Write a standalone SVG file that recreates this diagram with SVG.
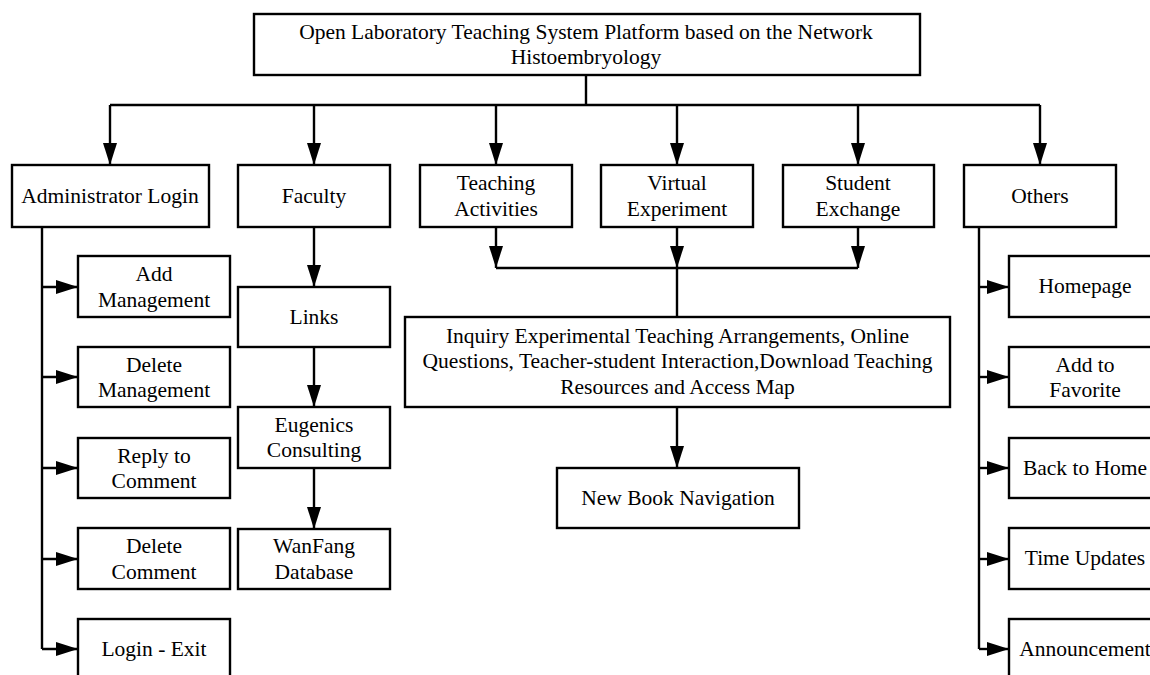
<svg xmlns="http://www.w3.org/2000/svg" width="1150" height="675" viewBox="0 0 1150 675">
<defs>
<marker id="ah" markerUnits="userSpaceOnUse" markerWidth="24" markerHeight="16" refX="22" refY="7" orient="auto">
<path d="M0,0 L22,7 L0,14 z" fill="#000"/>
</marker>
<style>
.box{fill:#fff;stroke:#000;stroke-width:2.4}
.t{font-family:"Liberation Serif","Times New Roman",serif;font-size:21.5px;fill:#000;text-anchor:middle}
.c{fill:none;stroke:#000;stroke-width:2.4}
.a{fill:none;stroke:#000;stroke-width:2.4;marker-end:url(#ah)}
</style>
</defs>
<rect width="1150" height="675" fill="#fff"/>
<g id="connectors">
<path class="c" d="M586,75 V105 M110,105 H1040"/>
<path class="a" d="M110,105 V165"/>
<path class="a" d="M314,105 V165"/>
<path class="a" d="M496,105 V165"/>
<path class="a" d="M677,105 V165"/>
<path class="a" d="M858,105 V165"/>
<path class="a" d="M1040,105 V165"/>
<path class="c" d="M42,227 V649"/>
<path class="a" d="M42,287 H78"/>
<path class="a" d="M42,377 H78"/>
<path class="a" d="M42,468 H78"/>
<path class="a" d="M42,559 H78"/>
<path class="a" d="M42,649 H78"/>
<path class="a" d="M314,227 V287"/>
<path class="a" d="M314,347 V407"/>
<path class="a" d="M314,468 V529"/>
<path class="a" d="M496,227 V268"/>
<path class="a" d="M677,227 V268"/>
<path class="a" d="M858,227 V268"/>
<path class="c" d="M496,268 H858 M677,268 V317"/>
<path class="a" d="M677,407 V468"/>
<path class="c" d="M979,227 V649"/>
<path class="a" d="M979,287 H1009"/>
<path class="a" d="M979,377 H1009"/>
<path class="a" d="M979,468 H1009"/>
<path class="a" d="M979,559 H1009"/>
<path class="a" d="M979,649 H1009"/>
</g>
<g id="root"><rect class="box" x="254" y="14" width="666" height="61"/><text class="t" x="586" y="38.5">Open Laboratory Teaching System Platform based on the Network</text><text class="t" x="586" y="64">Histoembryology</text></g>
<g id="admin"><rect class="box" x="12" y="165" width="197" height="62"/><text class="t" x="110" y="203">Administrator Login</text></g>
<g id="faculty"><rect class="box" x="238" y="165" width="152" height="62"/><text class="t" x="314" y="203">Faculty</text></g>
<g id="teaching"><rect class="box" x="420" y="165" width="152" height="62"/><text class="t" x="496" y="190">Teaching</text><text class="t" x="496" y="215.5">Activities</text></g>
<g id="virtual"><rect class="box" x="601" y="165" width="152" height="62"/><text class="t" x="677" y="190">Virtual</text><text class="t" x="677" y="215.5">Experiment</text></g>
<g id="student"><rect class="box" x="783" y="165" width="151" height="62"/><text class="t" x="858" y="190">Student</text><text class="t" x="858" y="215.5">Exchange</text></g>
<g id="others"><rect class="box" x="964" y="165" width="152" height="62"/><text class="t" x="1040" y="203">Others</text></g>
<g id="addmgmt"><rect class="box" x="78" y="256" width="152" height="61"/><text class="t" x="154" y="281">Add</text><text class="t" x="154" y="306.5">Management</text></g>
<g id="delmgmt"><rect class="box" x="78" y="347" width="152" height="60"/><text class="t" x="154" y="371.5">Delete</text><text class="t" x="154" y="397">Management</text></g>
<g id="reply"><rect class="box" x="78" y="438" width="152" height="60"/><text class="t" x="154" y="462.5">Reply to</text><text class="t" x="154" y="488">Comment</text></g>
<g id="delcomment"><rect class="box" x="78" y="528" width="152" height="61"/><text class="t" x="154" y="553">Delete</text><text class="t" x="154" y="578.5">Comment</text></g>
<g id="loginexit"><rect class="box" x="78" y="619" width="152" height="62"/><text class="t" x="154" y="656">Login - Exit</text></g>
<g id="links"><rect class="box" x="238" y="287" width="152" height="60"/><text class="t" x="314" y="324">Links</text></g>
<g id="eugenics"><rect class="box" x="238" y="407" width="152" height="61"/><text class="t" x="314" y="431.5">Eugenics</text><text class="t" x="314" y="457">Consulting</text></g>
<g id="wanfang"><rect class="box" x="238" y="529" width="152" height="60"/><text class="t" x="314" y="553">WanFang</text><text class="t" x="314" y="578.5">Database</text></g>
<g id="inquiry"><rect class="box" x="405" y="317" width="545" height="90"/><text class="t" x="677.5" y="342.5">Inquiry Experimental Teaching Arrangements, Online</text><text class="t" x="677.5" y="368">Questions, Teacher-student Interaction,Download Teaching</text><text class="t" x="677.5" y="393.5">Resources and Access Map</text></g>
<g id="newbook"><rect class="box" x="557" y="468" width="242" height="60"/><text class="t" x="678" y="505">New Book Navigation</text></g>
<g id="homepage"><rect class="box" x="1009" y="256" width="152" height="61"/><text class="t" x="1085" y="293">Homepage</text></g>
<g id="favorite"><rect class="box" x="1009" y="347" width="152" height="60"/><text class="t" x="1085" y="371.5">Add to</text><text class="t" x="1085" y="397">Favorite</text></g>
<g id="backhome"><rect class="box" x="1009" y="438" width="152" height="60"/><text class="t" x="1085" y="475">Back to Home</text></g>
<g id="timeupdates"><rect class="box" x="1009" y="528" width="152" height="61"/><text class="t" x="1085" y="565">Time Updates</text></g>
<g id="announcement"><rect class="box" x="1009" y="619" width="152" height="62"/><text class="t" x="1085" y="656">Announcement</text></g>
</svg>
